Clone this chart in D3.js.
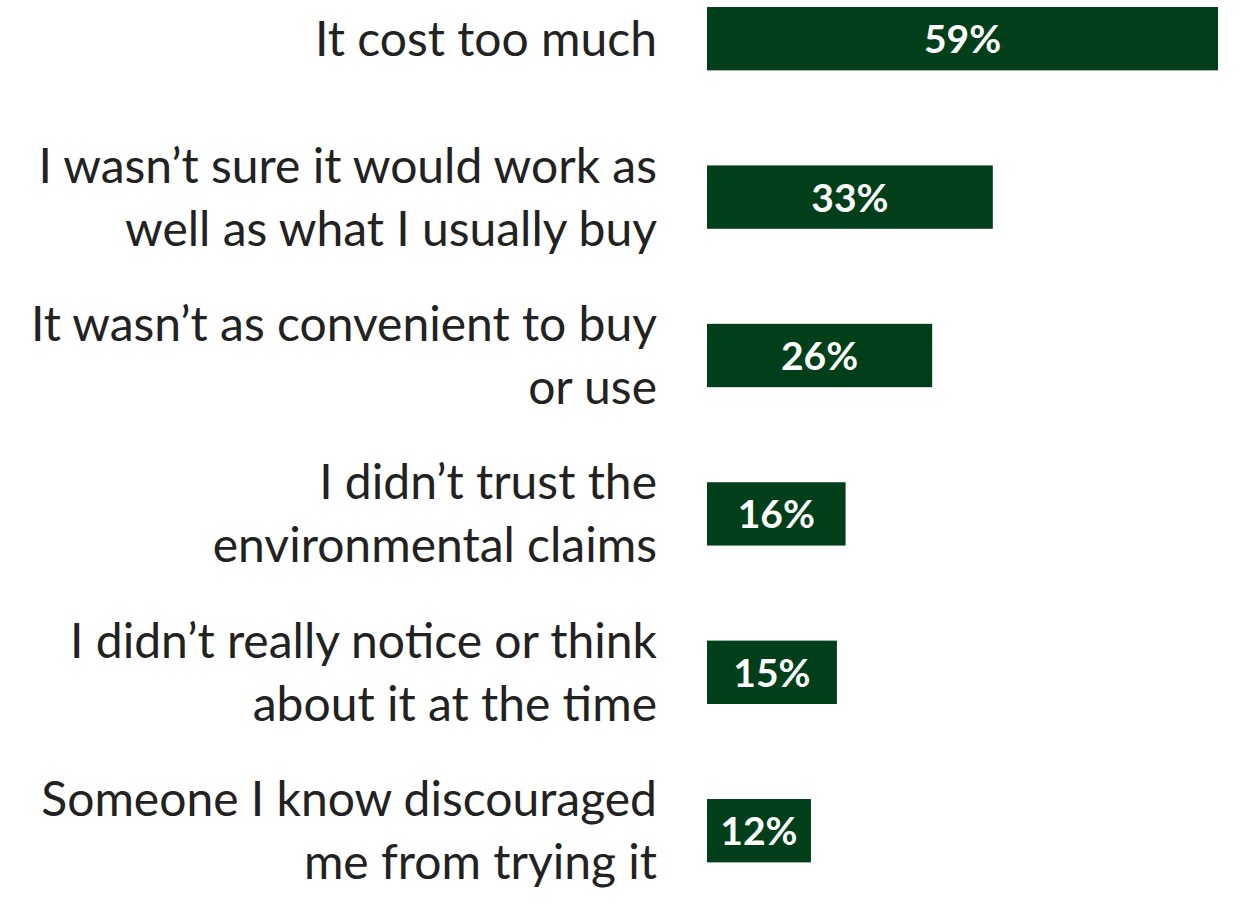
<!DOCTYPE html>
<html>
<head>
<meta charset="utf-8">
<script src="https://cdn.jsdelivr.net/npm/d3@7"></script>
<style>
  html, body { margin: 0; padding: 0; background: #ffffff; }
  svg { display: block; }
</style>
</head>
<body>
<svg id="chart" width="1258" height="908"></svg>
<script>
// Reasons for not buying the greener option (% of respondents)
const categories = [
  ["It cost too much"],
  ["I wasn\u2019t sure it would work as", "well as what I usually buy"],
  ["It wasn\u2019t as convenient to buy", "or use"],
  ["I didn\u2019t trust the", "environmental claims"],
  ["I didn\u2019t really notice or think", "about it at the time"],
  ["Someone I know discouraged", "me from trying it"]
];
const values = [59, 33, 26, 16, 15, 12];
const valueLabels = ["59%", "33%", "26%", "16%", "15%", "12%"];

const W = 1258, H = 908;
const barColor = "#003f1a";
const textColor = "#222222";
const labelFont = "Lato, 'Open Sans', sans-serif";

const svg = d3.select("#chart");

const keys = categories.map((c, i) => "c" + i);

// Horizontal value scale: bars start at x=707
const x = d3.scaleLinear().domain([0, 59]).range([707, 1218]);

// Vertical band scale for the six categories
const y = d3.scaleBand()
  .domain(keys)
  .range([-40.5, 909.9])
  .paddingInner(0.6)
  .paddingOuter(0.3);

// Bars
svg.append("g")
  .selectAll("rect")
  .data(values)
  .join("rect")
  .attr("x", x(0))
  .attr("y", (d, i) => y(keys[i]))
  .attr("width", d => x(d) - x(0))
  .attr("height", y.bandwidth())
  .attr("fill", barColor);

// Value labels centred inside each bar
svg.append("g")
  .selectAll("text")
  .data(values)
  .join("text")
  .attr("x", d => (x(0) + x(d)) / 2)
  .attr("y", (d, i) => y(keys[i]) + y.bandwidth() / 2 + 14.5)
  .attr("text-anchor", "middle")
  .attr("font-family", labelFont)
  .attr("font-weight", 700)
  .attr("font-size", 39)
  .attr("fill", "#ffffff")
  .text((d, i) => valueLabels[i]);

// Category labels, right-aligned beside the bars
const catFontSize = 48;
const lineGap = 63;
const labelRight = 657;

const catG = svg.append("g");
categories.forEach((lines, i) => {
  const cy = y(keys[i]) + y.bandwidth() / 2;
  const n = lines.length;
  const t = catG.append("text")
    .attr("text-anchor", "end")
    .attr("font-family", labelFont)
    .attr("font-size", catFontSize)
    .attr("fill", textColor);
  lines.forEach((ln, j) => {
    t.append("tspan")
      .attr("x", labelRight)
      .attr("y", cy + (j - (n - 1) / 2) * lineGap + 17)
      .text(ln);
  });
});

// Keep the longest label line inside the left edge
let maxW = 0;
catG.selectAll("tspan").each(function () {
  maxW = Math.max(maxW, this.getComputedTextLength());
});
const targetW = labelRight - 30;
if (maxW > targetW) {
  catG.selectAll("text").attr("font-size", catFontSize * targetW / maxW);
}
</script>
</body>
</html>
